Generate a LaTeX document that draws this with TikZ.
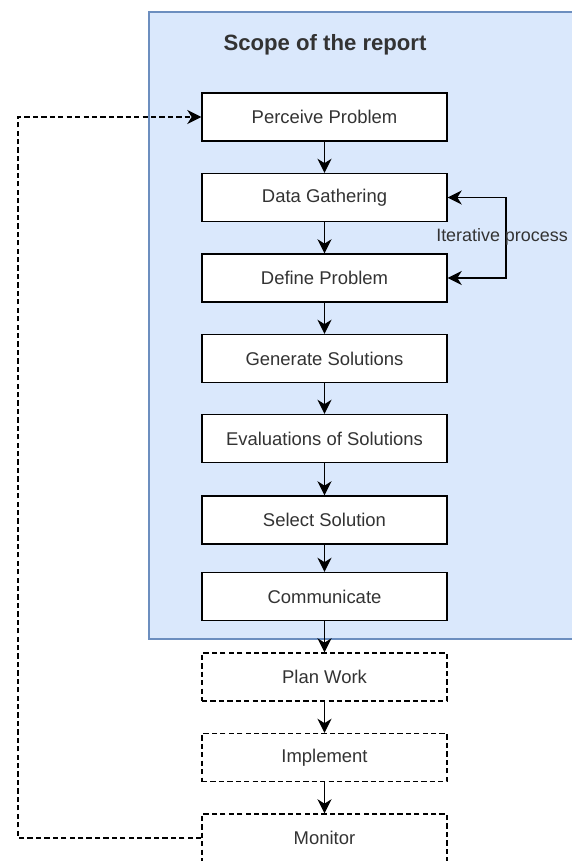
\documentclass[tikz,border=0pt]{standalone}
\usepackage{fontspec}
\setmainfont{Liberation Sans}
\usetikzlibrary{arrows.meta}
\definecolor{scopefill}{HTML}{DAE8FC}
\definecolor{scopeline}{HTML}{6C8EBF}
\definecolor{txtgrey}{HTML}{333333}

\tikzset{
 stage/.style={draw=black, line width=0.8pt, fill=white, minimum width=4.9cm, minimum height=0.96cm,
   inner sep=0pt, text=txtgrey, font=\fontsize{10.5}{12}\selectfont},
 later/.style={stage, dash pattern=on 3pt off 1.8pt},
 flow/.style={line width=0.8pt, -{Stealth[length=8pt, width=8pt, inset=2.5pt]}},
 back/.style={flow, dash pattern=on 3pt off 1.8pt}
}

\begin{document}
\begin{tikzpicture}[x=0.02cm, y=-0.02cm]
 \useasboundingbox (0,0) rectangle (571,861);
 \fill[scopefill, draw=scopeline, line width=0.6pt] (149,12) rectangle (590,639);
 \node[font=\bfseries\fontsize{12.6}{14}\selectfont, text=txtgrey] (title) at (325,45) {Scope of the report};

 \node[stage] (perceive) at (324.5,117) {Perceive Problem};
 \node[stage] (gather) at (324.5,197.5) {Data Gathering};
 \node[stage] (define) at (324.5,278) {Define Problem};
 \node[stage] (generate) at (324.5,358.5) {Generate Solutions};
 \node[stage] (evaluate) at (324.5,438.5) {Evaluations of Solutions};
 \node[stage] (select) at (324.5,520) {Select Solution};
 \node[stage] (communicate) at (324.5,596.5) {Communicate};
 \node[later] (plan) at (324.5,677) {Plan Work};
 \node[later] (implement) at (324.5,757.5) {Implement};
 \node[later] (monitor) at (324.5,838) {Monitor};

 \draw[flow] (perceive) -- (gather);
 \draw[flow] (gather) -- (define);
 \draw[flow] (define) -- (generate);
 \draw[flow] (generate) -- (evaluate);
 \draw[flow] (evaluate) -- (select);
 \draw[flow] (select) -- (communicate);
 \draw[flow] (communicate) -- (plan);
 \draw[flow] (plan) -- (implement);
 \draw[flow] (implement) -- (monitor);

 \coordinate (loop) at (506,237);
 \draw[flow] (loop) |- (gather.east);
 \draw[flow] (loop) |- (define.east);
 \node[text=txtgrey, font=\fontsize{10.2}{12}\selectfont, inner sep=0pt] (iterlabel) at (502,237) {Iterative process};

 \coordinate (corner) at (18,838);
 \draw[back] (monitor.west) -- (corner) |- (perceive.west);
\end{tikzpicture}
\end{document}
